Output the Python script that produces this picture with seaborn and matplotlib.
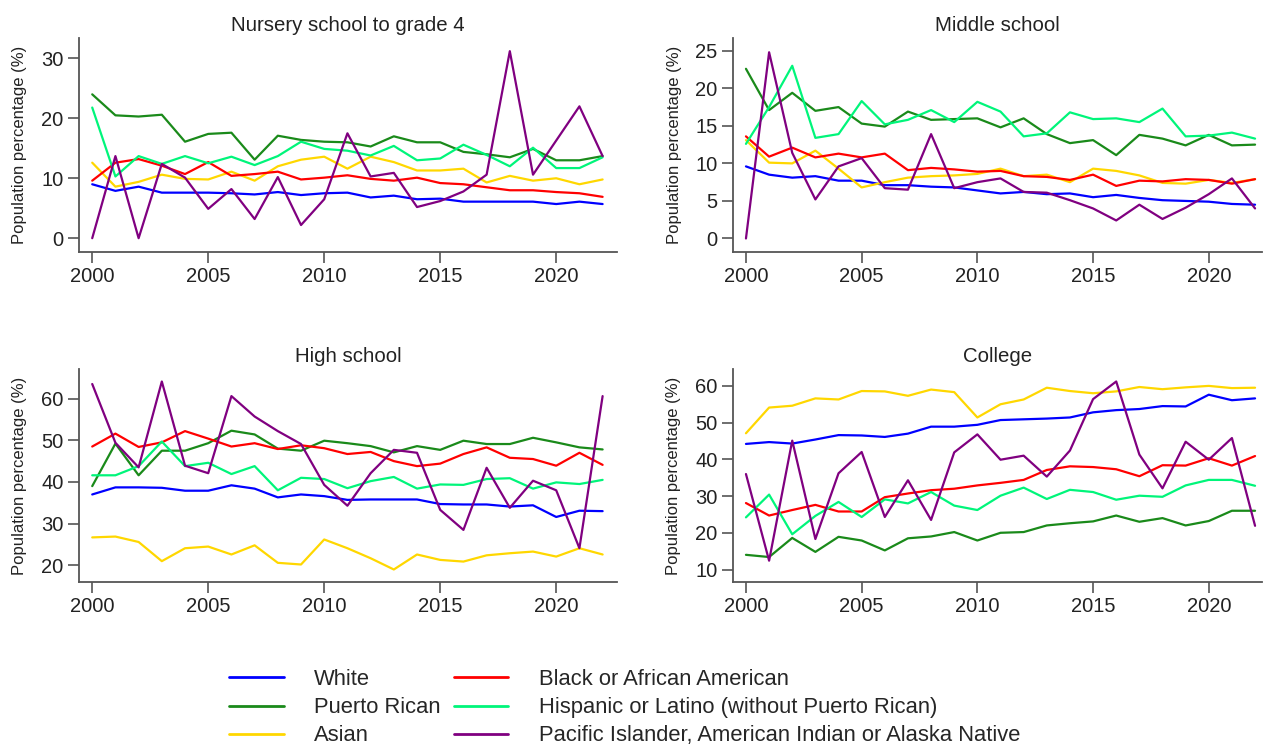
import numpy as np
import pandas as pd
import matplotlib
matplotlib.use("Agg")
import matplotlib.pyplot as plt
import seaborn as sns

years = list(range(2000, 2023))

groups = ["White", "Puerto Rican", "Asian", "Black or African American",
          "Hispanic or Latino (without Puerto Rican)",
          "Pacific Islander, American Indian or Alaska Native"]
colors = ["#0000ff", "#1a8a1a", "#ffd700", "#ff0000", "#00f57a", "#800080"]

panel_titles = ["Nursery school to grade 4", "Middle school", "High school", "College"]

# Nursery school to grade 4
nursery_white = [9.0, 7.9, 8.6, 7.6, 7.6, 7.6, 7.5, 7.3, 7.7, 7.2, 7.5, 7.6, 6.8, 7.1, 6.5, 6.6, 6.1, 6.1, 6.1, 6.1, 5.7, 6.1, 5.7]
nursery_pr = [24.0, 20.5, 20.3, 20.6, 16.1, 17.4, 17.6, 13.1, 17.1, 16.4, 16.1, 16.0, 15.3, 17.0, 16.0, 16.0, 14.4, 14.0, 13.5, 14.9, 13.0, 13.0, 13.7]
nursery_asian = [12.6, 8.6, 9.4, 10.6, 9.9, 9.8, 11.1, 9.6, 12.0, 13.1, 13.6, 11.6, 13.6, 12.7, 11.3, 11.3, 11.6, 9.3, 10.4, 9.6, 10.0, 9.0, 9.8]
nursery_black = [9.6, 12.6, 13.2, 12.1, 10.7, 12.7, 10.4, 10.7, 11.1, 9.8, 10.1, 10.5, 9.9, 9.6, 10.1, 9.2, 9.0, 8.5, 8.0, 8.0, 7.7, 7.5, 6.9]
nursery_hisp = [21.8, 10.3, 13.7, 12.4, 13.7, 12.5, 13.6, 12.2, 13.7, 16.1, 14.9, 14.6, 13.8, 15.4, 13.0, 13.3, 15.6, 13.9, 12.0, 15.1, 11.7, 11.7, 13.5]
nursery_pac = [0.0, 13.7, 0.0, 12.4, 10.1, 4.9, 8.2, 3.2, 10.2, 2.2, 6.5, 17.5, 10.3, 10.9, 5.2, 6.2, 7.8, 10.6, 31.2, 10.6, 16.3, 22.0, 13.7]

# Middle school
middle_white = [9.6, 8.5, 8.1, 8.3, 7.7, 7.7, 7.1, 7.1, 6.9, 6.8, 6.4, 6.0, 6.2, 5.9, 6.0, 5.5, 5.8, 5.4, 5.1, 5.0, 4.9, 4.6, 4.5]
middle_pr = [22.6, 17.1, 19.4, 17.0, 17.5, 15.3, 14.9, 16.9, 15.8, 15.9, 16.0, 14.8, 16.0, 13.9, 12.7, 13.1, 11.1, 13.8, 13.3, 12.4, 13.8, 12.4, 12.5]
middle_asian = [13.1, 10.1, 10.0, 11.7, 9.3, 6.8, 7.5, 8.1, 8.3, 8.4, 8.6, 9.3, 8.3, 8.5, 7.5, 9.3, 9.0, 8.4, 7.4, 7.3, 7.8, 7.4, 7.9]
middle_black = [13.6, 10.9, 12.1, 10.8, 11.3, 10.8, 11.3, 9.1, 9.4, 9.2, 8.9, 9.0, 8.3, 8.2, 7.8, 8.5, 7.0, 7.7, 7.6, 7.9, 7.8, 7.3, 7.9]
middle_hisp = [12.6, 17.5, 23.0, 13.4, 13.9, 18.3, 15.2, 15.8, 17.1, 15.5, 18.2, 16.9, 13.6, 14.0, 16.8, 15.9, 16.0, 15.5, 17.3, 13.6, 13.7, 14.1, 13.3]
middle_pac = [0.0, 24.8, 11.4, 5.2, 9.6, 10.7, 6.7, 6.5, 13.9, 6.7, 7.5, 8.0, 6.2, 6.1, 5.1, 4.0, 2.4, 4.5, 2.6, 4.1, 5.9, 8.0, 4.0]

# High school
high_white = [37.0, 38.7, 38.7, 38.6, 37.9, 37.9, 39.2, 38.4, 36.3, 37.0, 36.6, 35.7, 35.8, 35.8, 35.8, 34.7, 34.6, 34.6, 34.1, 34.4, 31.6, 33.1, 33.0]
high_pr = [39.0, 49.2, 41.6, 47.5, 47.5, 49.3, 52.3, 51.4, 48.0, 47.5, 49.9, 49.3, 48.6, 47.1, 48.6, 47.7, 49.9, 49.1, 49.1, 50.6, 49.5, 48.3, 47.8]
high_asian = [26.7, 26.9, 25.6, 21.0, 24.1, 24.5, 22.6, 24.8, 20.6, 20.2, 26.2, 24.1, 21.7, 19.0, 22.6, 21.3, 20.9, 22.4, 22.9, 23.3, 22.1, 24.1, 22.6]
high_black = [48.5, 51.6, 48.4, 49.5, 52.2, 50.4, 48.5, 49.3, 47.9, 48.8, 48.1, 46.7, 47.2, 45.0, 43.8, 44.4, 46.7, 48.3, 45.8, 45.5, 43.9, 47.0, 44.1]
high_hisp = [41.6, 41.6, 43.8, 49.7, 43.8, 44.6, 41.9, 43.8, 38.0, 41.0, 40.7, 38.5, 40.2, 41.2, 38.4, 39.4, 39.3, 40.7, 40.9, 38.4, 39.9, 39.5, 40.5]
high_pac = [63.5, 49.4, 43.5, 64.1, 43.9, 42.1, 60.6, 55.7, 52.2, 49.1, 39.3, 34.3, 42.1, 47.7, 47.0, 33.3, 28.5, 43.4, 33.8, 40.3, 38.0, 24.1, 60.6]

# College
college_white = [44.2, 44.7, 44.3, 45.4, 46.6, 46.5, 46.1, 47.0, 48.9, 48.9, 49.4, 50.7, 50.9, 51.1, 51.4, 52.8, 53.4, 53.7, 54.5, 54.4, 57.6, 56.1, 56.6]
college_pr = [14.0, 13.4, 18.6, 14.8, 18.9, 17.9, 15.2, 18.5, 19.0, 20.2, 17.9, 20.0, 20.2, 22.0, 22.6, 23.1, 24.7, 23.0, 24.0, 22.0, 23.2, 26.0, 26.0]
college_asian = [47.1, 54.1, 54.6, 56.6, 56.3, 58.6, 58.5, 57.3, 59.0, 58.3, 51.4, 55.0, 56.3, 59.5, 58.6, 58.0, 58.5, 59.7, 59.1, 59.6, 60.0, 59.4, 59.5]
college_black = [28.1, 24.7, 26.2, 27.6, 25.8, 25.8, 29.7, 30.7, 31.6, 32.0, 32.9, 33.6, 34.4, 37.1, 38.1, 37.9, 37.3, 35.4, 38.4, 38.3, 40.3, 38.3, 40.9]
college_hisp = [24.2, 30.4, 19.6, 24.6, 28.4, 24.3, 29.1, 28.0, 31.1, 27.4, 26.2, 30.1, 32.3, 29.2, 31.7, 31.1, 29.0, 30.1, 29.8, 32.9, 34.4, 34.4, 32.8]
college_pac = [36.0, 12.4, 45.1, 18.3, 36.2, 42.0, 24.3, 34.3, 23.5, 41.9, 46.8, 39.9, 41.0, 35.3, 42.4, 56.4, 61.2, 41.3, 32.1, 44.8, 39.9, 45.8, 21.9]

panels = [
    [nursery_white, nursery_pr, nursery_asian, nursery_black, nursery_hisp, nursery_pac],
    [middle_white, middle_pr, middle_asian, middle_black, middle_hisp, middle_pac],
    [high_white, high_pr, high_asian, high_black, high_hisp, high_pac],
    [college_white, college_pr, college_asian, college_black, college_hisp, college_pac],
]
yticks = [[0, 10, 20, 30], [0, 5, 10, 15, 20, 25], [20, 30, 40, 50, 60], [10, 20, 30, 40, 50, 60]]
ylims = [(-2.3, 33.4), (-1.8, 26.7), (16.0, 67.1), (6.6, 64.6)]

sns.set_style("white")
plt.rcParams["font.family"] = ["Liberation Sans", "DejaVu Sans"]

fig = plt.figure(figsize=(12.63, 7.44), dpi=100)
W, H = 1263, 744
# axes boxes in pixels: left, top, right, bottom
boxes = [(79, 38, 617, 252), (733, 38, 1262, 252), (79, 369, 617, 582), (733, 369, 1262, 582)]
xlims = [(1999.43, 2022.62), (1999.44, 2022.3), (1999.43, 2022.62), (1999.44, 2022.3)]
palette = dict(zip(groups, colors))

axes = []
for i, (l, t, r, b) in enumerate(boxes):
    ax = fig.add_axes([l / W, 1 - b / H, (r - l) / W, (b - t) / H])
    df = pd.DataFrame({"year": years * len(groups),
                       "value": np.concatenate(panels[i]),
                       "group": np.repeat(groups, len(years))})
    sns.lineplot(data=df, x="year", y="value", hue="group", hue_order=groups,
                 palette=palette, linewidth=1.6, ax=ax, legend=(i == 0))
    ax.set_xlim(*xlims[i])
    ax.set_ylim(*ylims[i])
    ax.set_xticks([2000, 2005, 2010, 2015, 2020])
    ax.set_yticks(yticks[i])
    ax.set_xlabel("")
    ax.set_ylabel("Population percentage (%)", fontsize=12, color="#222222", labelpad=10)
    ax.set_title(panel_titles[i], fontsize=14.7, color="#222222", pad=5)
    for side in ["top", "right"]:
        ax.spines[side].set_visible(False)
    for side in ["left", "bottom"]:
        ax.spines[side].set_color("#555555")
        ax.spines[side].set_linewidth(1.3)
    ax.tick_params(axis="both", which="major", direction="out", length=8, width=1.2,
                   bottom=True, left=True,
                   color="#555555", labelsize=14.5, labelcolor="#222222", pad=3)
    axes.append(ax)

handles, labels = axes[0].get_legend_handles_labels()
axes[0].get_legend().remove()
for h in handles:
    h.set_linewidth(2)
fig.legend(handles, labels, ncol=2, loc="upper left", bbox_to_anchor=(229 / W, 1 - 669 / H),
           frameon=False, fontsize=15.8, handlelength=2.5, handletextpad=1.37,
           columnspacing=0.6, labelspacing=0.33, borderpad=0, borderaxespad=0)

fig.savefig("out.png", dpi=100)
